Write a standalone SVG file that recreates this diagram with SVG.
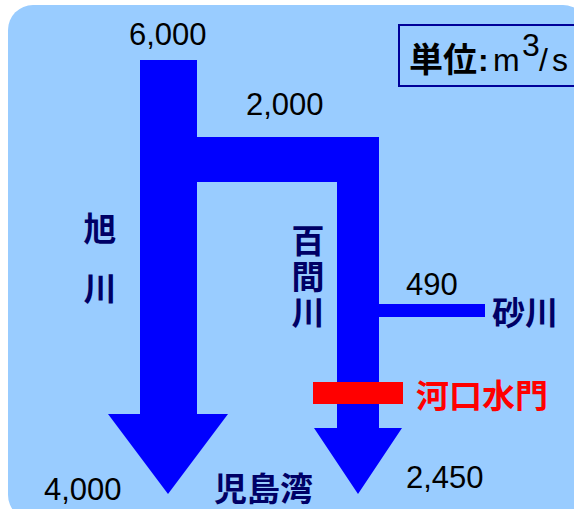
<svg xmlns="http://www.w3.org/2000/svg" width="574" height="509" viewBox="0 0 574 509">
<style>
.num{font-family:"Liberation Sans",Arial,sans-serif;font-size:31px;fill:#000}
.jp{font-family:"Noto Sans CJK JP","Noto Sans CJK SC",sans-serif;font-weight:bold;font-size:33px;fill:#000066}
.u{font-family:"Liberation Sans",Arial,sans-serif;font-size:32px;fill:#000}
.red{fill:#FF0000}
.flow{fill:#0000FF}
</style>
<rect x="8" y="5" width="580" height="515" rx="25" fill="#99CCFF"/>
<g id="unit">
<rect x="399" y="25" width="190" height="61" fill="none" stroke="#000099" stroke-width="2"/>
<text x="409" y="72" font-family="'Noto Sans CJK JP',sans-serif" font-weight="bold" font-size="34" fill="#000">単位</text>
<text class="u" x="478" y="71" font-weight="bold">:</text>
<text class="u" x="493" y="71">m</text>
<text class="u" x="522" y="56" font-size="16">3</text>
<text class="u" x="539" y="71">/</text>
<text class="u" x="552" y="71">s</text>
</g>
<g id="connectors">
<path class="flow" d="M140,60 H197 V137 H379 V428 H402 L358,494 L314,428 H337 V182 H197 V414 H228 L168,494 L108,414 H140 Z"/>
<rect class="flow" x="379" y="304" width="106" height="13"/>
</g>
<g id="gate">
<rect x="313" y="382" width="90" height="22" fill="#FF0000"/>
<text class="jp red" x="416" y="408" font-size="35">河口水門</text>
</g>
<g id="asahi">
<text class="jp" text-anchor="middle" font-size="34"><tspan x="100" y="241">旭</tspan><tspan x="100" y="301">川</tspan></text>
<text class="num" x="129" y="45">6,000</text>
<text class="num" x="44" y="500">4,000</text>
</g>
<g id="hyakken">
<text class="jp" text-anchor="middle" font-size="30"><tspan x="308" y="253">百</tspan><tspan x="308" y="289">間</tspan><tspan x="308" y="325">川</tspan></text>
<text class="num" x="246" y="115">2,000</text>
<text class="num" x="406" y="488">2,450</text>
</g>
<g id="sunagawa">
<text class="jp" x="492" y="325" font-size="34">砂川</text>
<text class="num" x="406" y="295">490</text>
</g>
<g id="kojimawan">
<text class="jp" x="214" y="501" font-size="33">児島湾</text>
</g>
</svg>
